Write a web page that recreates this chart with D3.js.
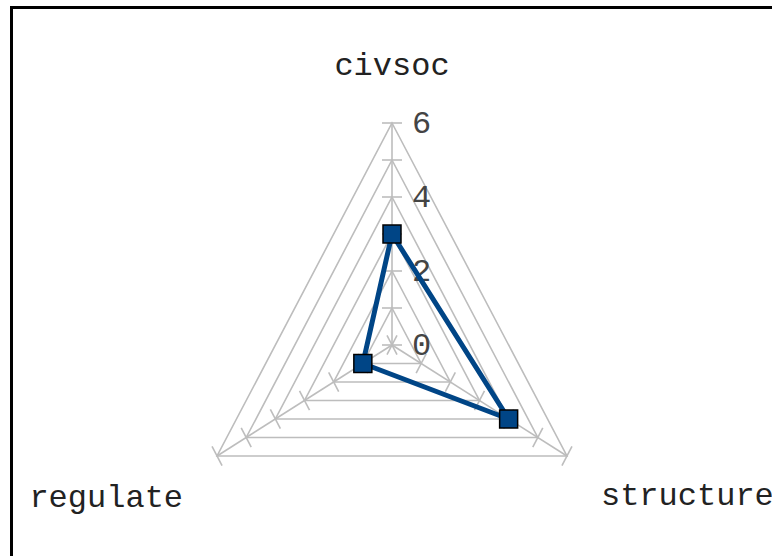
<!DOCTYPE html>
<html lang="en">
  <head>
    <meta charset="UTF-8" />
    <title>radar</title>
    <style>
      body { margin: 0; background: #fff; }
      svg { display: block; }
    </style>
    <script src="https://d3js.org/d3.v7.min.js"></script>
  </head>
  <body>
    <div class="chart"></div>
    <script>
      // data
      const categories = ['civsoc', 'structure', 'regulate']
      const values = [3, 4, 1]
      const gridLevels = [1, 2, 3, 4, 5, 6]
      const tickValues = [0, 1, 2, 3, 4, 5, 6]
      const tickLabels = [0, 2, 4, 6]

      const width = 772
      const height = 556
      const cx = 392
      const cy = 345
      const kx = 0.91 // picture is a bit narrower than tall

      const svg = d3
        .select('.chart')
        .append('svg')
        .attr('width', width)
        .attr('height', height)

      // frame (cut at right / bottom)
      svg
        .append('rect')
        .attr('x', 11.5)
        .attr('y', 7.5)
        .attr('width', 900)
        .attr('height', 900)
        .attr('fill', 'none')
        .attr('stroke', '#000')
        .attr('stroke-width', 3)

      const r = d3.scaleLinear().domain([0, 6]).range([0, 222])
      const angle = d3
        .scalePoint()
        .domain(categories)
        .range([-Math.PI / 2, -Math.PI / 2 + (2 * Math.PI * 2) / 3])

      const pt = (cat, v) => {
        const a = angle(cat)
        return [cx + r(v) * Math.cos(a) * kx, cy + r(v) * Math.sin(a)]
      }

      const chart = svg.append('g')
      const grid = chart.append('g').attr('fill', 'none').attr('stroke', '#bdbdbd').attr('stroke-width', 1.6)

      // grid triangles
      grid
        .selectAll('path.ring')
        .data(gridLevels)
        .join('path')
        .attr('class', 'ring')
        .attr('d', (lv) => d3.line().curve(d3.curveLinearClosed)(categories.map((c) => pt(c, lv))))

      // spokes
      grid
        .selectAll('line.spoke')
        .data(categories)
        .join('line')
        .attr('class', 'spoke')
        .attr('x1', cx)
        .attr('y1', cy)
        .attr('x2', (c) => pt(c, 6)[0])
        .attr('y2', (c) => pt(c, 6)[1])

      // tick marks on each spoke
      const tickLen = 11
      categories.forEach((c) => {
        const a = angle(c)
        const px = -Math.sin(a)
        const py = Math.cos(a)
        grid
          .append('g')
          .selectAll('line')
          .data(tickValues)
          .join('line')
          .attr('x1', (v) => pt(c, v)[0] - px * tickLen * kx)
          .attr('y1', (v) => pt(c, v)[1] - py * tickLen)
          .attr('x2', (v) => pt(c, v)[0] + px * tickLen * kx)
          .attr('y2', (v) => pt(c, v)[1] + py * tickLen)
      })

      // tick labels on the top axis
      chart
        .append('g')
        .selectAll('text')
        .data(tickLabels)
        .join('text')
        .attr('x', cx + 20)
        .attr('y', (v) => pt(categories[0], v)[1] + 10)
        .attr('font-family', '"Liberation Mono", "DejaVu Sans Mono", monospace')
        .attr('font-size', 32)
        .attr('fill', '#444')
        .text((v) => v)

      // series
      chart
        .append('path')
        .attr('d', d3.line().curve(d3.curveLinearClosed)(categories.map((c, i) => pt(c, values[i]))))
        .attr('fill', 'none')
        .attr('stroke', '#004586')
        .attr('stroke-width', 5)
        .attr('stroke-linejoin', 'round')

      const ms = 18
      chart
        .append('g')
        .selectAll('rect')
        .data(categories)
        .join('rect')
        .attr('x', (c, i) => pt(c, values[i])[0] - ms / 2)
        .attr('y', (c, i) => pt(c, values[i])[1] - ms / 2)
        .attr('width', ms)
        .attr('height', ms)
        .attr('fill', '#004586')
        .attr('stroke', '#000')
        .attr('stroke-width', 1.5)

      // category labels
      const labelPos = {
        civsoc: { dx: 0, dy: -48, anchor: 'middle' },
        structure: { dx: 34, dy: 49, anchor: 'start' },
        regulate: { dx: -34, dy: 51, anchor: 'end' }
      }
      chart
        .append('g')
        .selectAll('text')
        .data(categories)
        .join('text')
        .attr('x', (c) => pt(c, 6)[0] + labelPos[c].dx)
        .attr('y', (c) => pt(c, 6)[1] + labelPos[c].dy)
        .attr('text-anchor', (c) => labelPos[c].anchor)
        .attr('font-family', '"Liberation Mono", "DejaVu Sans Mono", monospace')
        .attr('font-size', 32)
        .attr('fill', '#222')
        .text((c) => c)
    </script>
  </body>
</html>
